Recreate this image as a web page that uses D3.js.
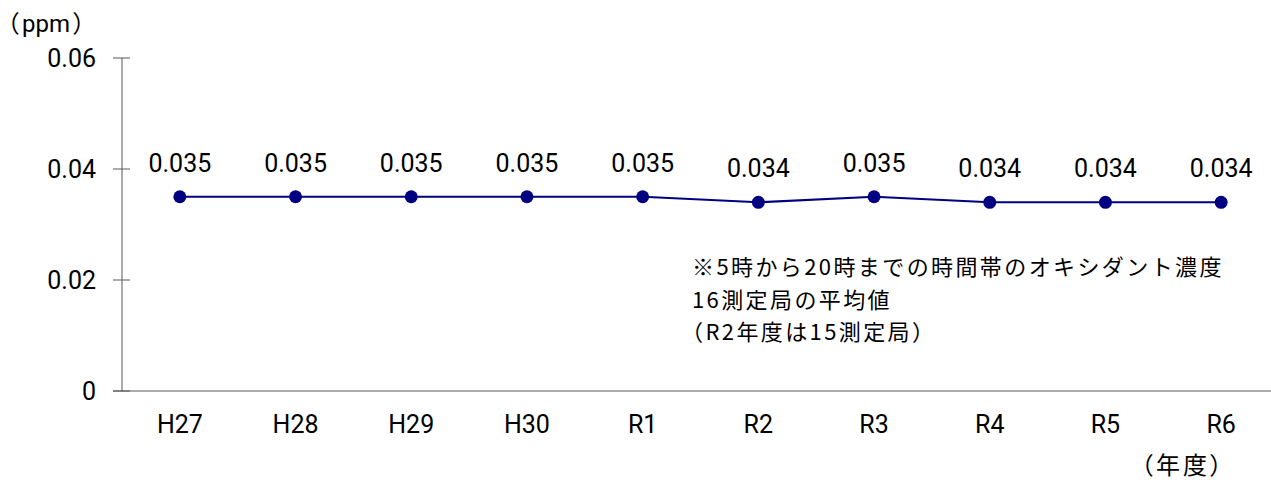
<!DOCTYPE html>
<html>
<head>
<meta charset="utf-8">
<script src="https://cdn.jsdelivr.net/npm/d3@7"></script>
<style>
  body { margin: 0; background: #fff; }
  svg text { fill: #000; }
  .unit { font-feature-settings: "palt"; }
</style>
</head>
<body>
<div class="canvas"></div>
<script>
const years = ["H27", "H28", "H29", "H30", "R1", "R2", "R3", "R4", "R5", "R6"];
const values = [0.035, 0.035, 0.035, 0.035, 0.035, 0.034, 0.035, 0.034, 0.034, 0.034];
const yTicks = [0, 0.02, 0.04, 0.06];
const yTickLabels = ["0", "0.02", "0.04", "0.06"];
const noteLines = [
  "※5時から20時までの時間帯のオキシダント濃度",
  "16測定局の平均値",
  "（R2年度は15測定局）"
];

const dims = { width: 1271, height: 482 };
const plot = { left: 122, right: 1279, top: 58, bottom: 391 };

const svg = d3
  .select(".canvas")
  .append("svg")
  .attr("width", dims.width)
  .attr("height", dims.height);

const x = d3.scaleBand().domain(years).range([plot.left, plot.right]);
const y = d3.scaleLinear().domain([0, 0.06]).range([plot.bottom, plot.top]);
const cx = (i) => x(years[i]) + x.bandwidth() / 2;

const numFont = "Roboto, 'Liberation Sans', sans-serif";
const jpFont = "'Noto Sans CJK JP', sans-serif";

// y axis
const yAxis = svg.append("g").attr("transform", `translate(${plot.left},0)`);
yAxis
  .append("line")
  .attr("y1", y(0.06))
  .attr("y2", y(0))
  .attr("stroke", "#595959");
yAxis
  .selectAll("line.tick")
  .data(yTicks)
  .join("line")
  .attr("class", "tick")
  .attr("x1", -9)
  .attr("x2", 8)
  .attr("y1", (d) => y(d))
  .attr("y2", (d) => y(d))
  .attr("stroke", "#595959");
yAxis
  .selectAll("text")
  .data(yTicks)
  .join("text")
  .attr("x", -26)
  .attr("y", (d) => y(d))
  .attr("dy", "0.36em")
  .attr("text-anchor", "end")
  .attr("font-family", numFont)
  .attr("font-size", 25)
  .text((d, i) => yTickLabels[i]);

// x axis
svg
  .append("line")
  .attr("x1", plot.left - 9)
  .attr("x2", plot.right)
  .attr("y1", y(0))
  .attr("y2", y(0))
  .attr("stroke", "#595959");

svg
  .append("g")
  .selectAll("text")
  .data(years)
  .join("text")
  .attr("x", (d, i) => cx(i))
  .attr("y", 433)
  .attr("text-anchor", "middle")
  .attr("font-family", numFont)
  .attr("font-size", 25)
  .text((d) => d);

// line + markers
const line = d3
  .line()
  .x((d, i) => cx(i))
  .y((d) => y(d));

svg
  .append("path")
  .datum(values)
  .attr("d", line)
  .attr("fill", "none")
  .attr("stroke", "#000080")
  .attr("stroke-width", 2);

svg
  .append("g")
  .selectAll("circle")
  .data(values)
  .join("circle")
  .attr("cx", (d, i) => cx(i))
  .attr("cy", (d) => y(d))
  .attr("r", 6.5)
  .attr("fill", "#000080");

// value labels
svg
  .append("g")
  .selectAll("text")
  .data(values)
  .join("text")
  .attr("x", (d, i) => cx(i))
  .attr("y", (d) => y(d) - 25)
  .attr("text-anchor", "middle")
  .attr("font-family", numFont)
  .attr("font-size", 25)
  .text((d) => d.toFixed(3));

// units
const ppm = svg
  .append("text")
  .attr("class", "unit")
  .attr("x", 7)
  .attr("y", 32)
  .attr("font-family", jpFont)
  .attr("font-size", 24);
ppm.append("tspan").text("（");
ppm.append("tspan").attr("dx", 3).attr("font-family", numFont).text("ppm");
ppm.append("tspan").attr("dx", 3).text("）");

svg
  .append("text")
  .attr("class", "unit")
  .attr("x", 1141)
  .attr("y", 474)
  .attr("font-family", jpFont)
  .attr("font-size", 24)
  .attr("letter-spacing", 3)
  .text("（年度）");

// note
svg
  .append("g")
  .selectAll("text")
  .data(noteLines)
  .join("text")
  .attr("x", 692)
  .attr("dx", (d) => (d.startsWith("（") ? "-0.5em" : 0))
  .attr("y", (d, i) => 275 + i * 32.5)
  .attr("font-family", jpFont)
  .attr("font-size", 22)
  .attr("letter-spacing", 2.4)
  .text((d) => d);
</script>
</body>
</html>
